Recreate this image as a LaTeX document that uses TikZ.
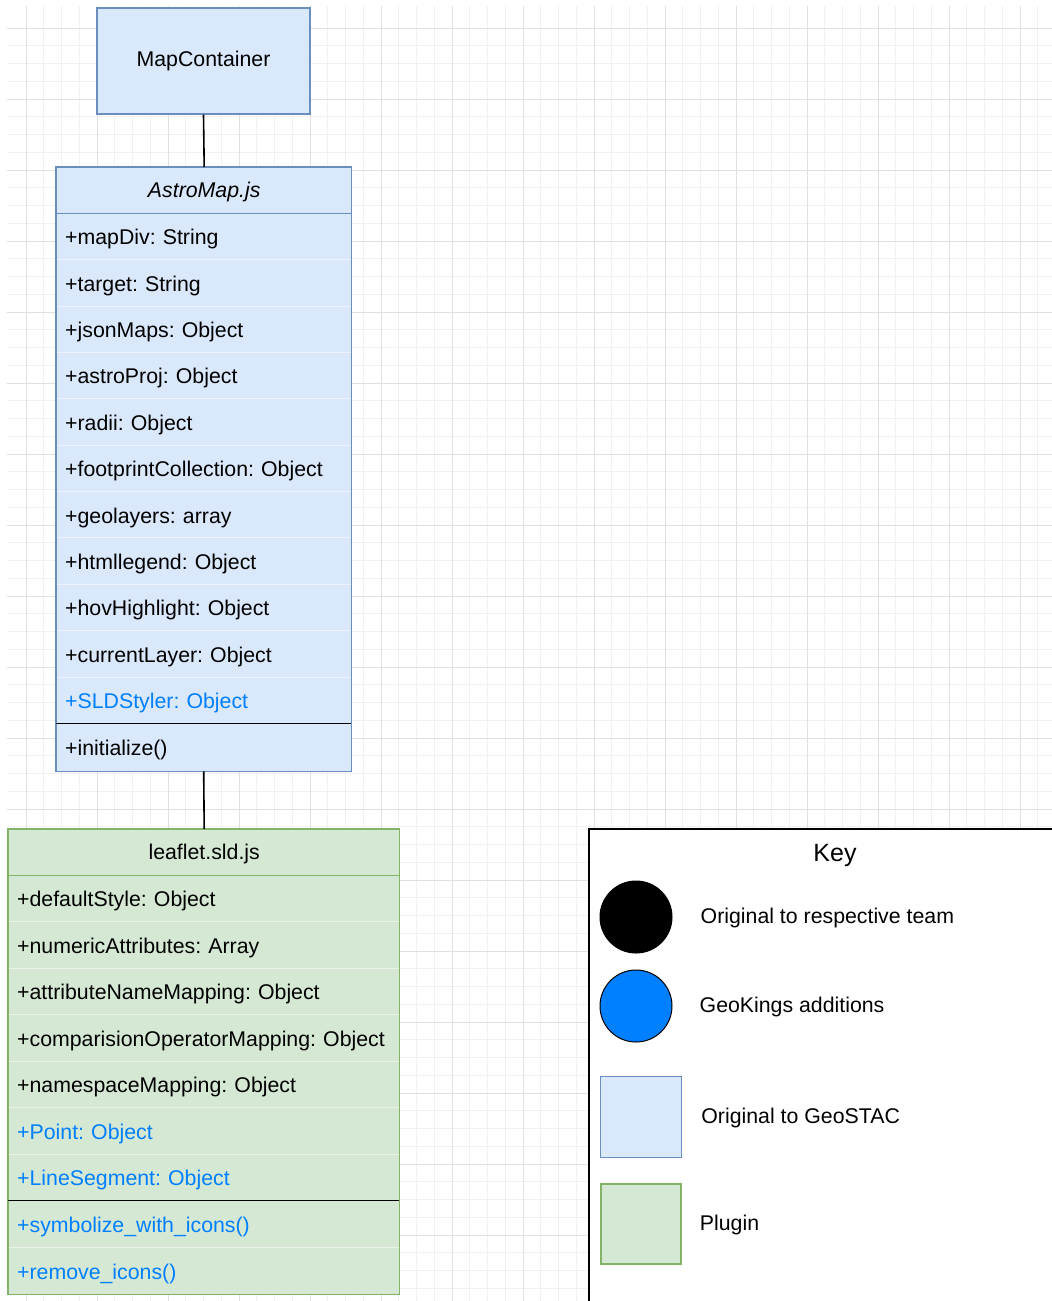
\documentclass[tikz,border=0pt]{standalone}
\usepackage{fontspec}
\setmainfont{Liberation Sans}
\usetikzlibrary{positioning}
\definecolor{geofill}{HTML}{DAE8FC}
\definecolor{geoline}{HTML}{6C8EBF}
\definecolor{plugfill}{HTML}{D5E8D4}
\definecolor{plugline}{HTML}{82B366}
\definecolor{kingblue}{HTML}{007FFF}
\definecolor{gridmajor}{HTML}{E0E0E0}
\definecolor{gridminor}{HTML}{F1F1F1}
\newcommand\rowfont{\fontsize{21.3}{26}\selectfont}
\frenchspacing

\begin{document}
\begin{tikzpicture}[x=1pt, y=-1pt,
  every node/.style={inner sep=0pt, font=\rowfont},
  gridthin/.style={draw=gridminor, line width=0.8pt},
  gridthick/.style={draw=gridmajor, line width=1pt},
  geobox/.style={draw=geoline, fill=geofill, line width=1.4pt},
  plugbox/.style={draw=plugline, fill=plugfill, line width=1.4pt},
  attr/.style={anchor=north west, align=left, inner xsep=9pt, minimum height=#1,
    text height=19pt, text depth=2pt},
  georow/.style={attr=#1, fill=geofill, text width=277pt},
  plugrow/.style={attr=#1, fill=plugfill, text width=373pt},
  rowgap/.style={draw=white!50!#1, line width=0.9pt},
  sepline/.style={draw=black, line width=1.6pt},
  link/.style={draw=black, line width=1.6pt},
  keytext/.style={anchor=west, yshift=-1pt}]
\path[use as bounding box, clip] (0,0) rectangle (1052,1301);

% background grid
\foreach \k in {1,...,58}
  \draw[gridthin] ({8.25+17.75*\k},6) -- ({8.25+17.75*\k},1301);
\foreach \k in {1,...,72}
  \draw[gridthin] (7,{10.25+17.75*\k}) -- (1052,{10.25+17.75*\k});
\foreach \k in {0,...,14}
  \draw[gridthick] ({26+71*\k},6) -- ({26+71*\k},1301);
\foreach \k in {0,...,17}
  \draw[gridthick] (7,{28+71*\k}) -- (1052,{28+71*\k});

% MapContainer
\node[geobox, minimum width=213pt, minimum height=106pt] (mapc) at (203.5,61)
  {MapContainer};

% AstroMap.js
\foreach \txt [count=\i] in {+mapDiv: String, +target: String,
    +jsonMaps: Object, +astroProj: Object, +radii: Object,
    +footprintCollection: Object, +geolayers: array, +htmllegend: Object,
    +hovHighlight: Object, +currentLayer: Object}
  \node[georow=46.36pt] (astro\i) at (56,{213+46.36*(\i-1)}) {\txt};
\node[georow=46.36pt, text=kingblue] (astro11) at (56,676.6) {+SLDStyler: Object};
\node[georow=48pt] (astrom1) at (56,723) {+initialize()};
\foreach \i in {1,...,10}
  \draw[rowgap=geofill] (astro\i.south west) -- (astro\i.south east);
\node[geobox, minimum width=295pt, minimum height=46pt, anchor=north west,
  font=\rowfont\itshape, text height=17pt, text depth=3pt]
  (astrohead) at (56,167) {AstroMap.js};
\draw[geoline, line width=1.4pt] (astrohead.north west) rectangle (astrom1.south east);
\draw[sepline] (astro11.south west) -- (astro11.south east);

% leaflet.sld.js
\foreach \txt [count=\i] in {+defaultStyle: Object, +numericAttributes: Array,
    +attributeNameMapping: Object, +comparisionOperatorMapping: Object,
    +namespaceMapping: Object}
  \node[plugrow=46.43pt] (leaf\i) at (8,{875+46.43*(\i-1)}) {\txt};
\node[plugrow=46.43pt, text=kingblue] (leaf6) at (8,1107.2) {+Point: Object};
\node[plugrow=46.43pt, text=kingblue] (leaf7) at (8,1153.6) {+LineSegment: Object};
\node[plugrow=47pt, text=kingblue] (leafm1) at (8,1200) {+symbolize\_with\_icons()};
\node[plugrow=47pt, text=kingblue] (leafm2) at (8,1247) {+remove\_icons()};
\foreach \n in {leaf1,leaf2,leaf3,leaf4,leaf5,leaf6,leafm1}
  \draw[rowgap=plugfill] (\n.south west) -- (\n.south east);
\node[plugbox, minimum width=391pt, minimum height=46pt, anchor=north west,
  text height=17pt, text depth=3pt] (leafhead) at (8,829) {leaflet.sld.js};
\draw[plugline, line width=1.4pt] (leafhead.north west) rectangle (leafm2.south east);
\draw[sepline] (leaf7.south west) -- (leaf7.south east);

% connectors
\draw[link] (mapc.south) -- (astrohead.north);
\draw[link] (astrom1.south) -- (leafhead.north);

% key
\node[draw=black, fill=white, line width=2pt, anchor=north west,
  minimum width=520pt, minimum height=520pt] (keyframe) at (587.5,828) {};
\node[font=\fontsize{25}{30}\selectfont] (keytitle) at (835,855) {Key};
\node[circle, draw=black, fill=black, line width=1pt, minimum size=72pt]
  (dotorig) at (636,917) {};
\node[circle, draw=black, fill=kingblue, line width=1pt, minimum size=72pt]
  (dotking) at (636,1006) {};
\node[geobox, minimum size=81pt] (sqgeo) at (641,1117) {};
\node[plugbox, minimum size=80pt] (sqplug) at (641,1224) {};
\node[keytext, right=28pt of dotorig] (lblorig) {Original to respective team};
\node[keytext, right=27pt of dotking] (lblking) {GeoKings additions};
\node[keytext, right=19pt of sqgeo] (lblgeo) {Original to GeoSTAC};
\node[keytext, right=18pt of sqplug] (lblplug) {Plugin};
\end{tikzpicture}
\end{document}
